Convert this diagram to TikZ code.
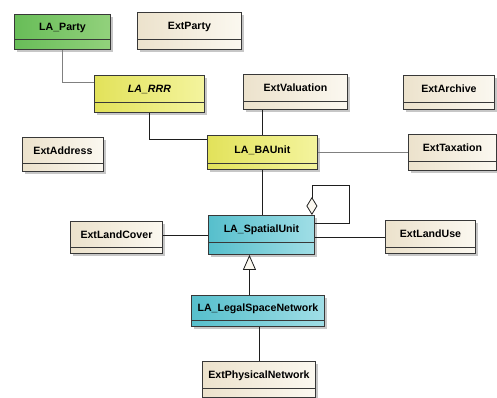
\documentclass[tikz,border=0pt]{standalone}
\usepackage{fontspec}
\setmainfont{Liberation Sans}
\usepackage{tikz}
\usetikzlibrary{arrows.meta,positioning,calc,shadows}
\definecolor{cLine}{HTML}{1E1E1E}
\definecolor{cGreyLine}{HTML}{808080}
\definecolor{cFrame}{HTML}{383838}
\definecolor{cPartyL}{HTML}{68BD58}
\definecolor{cPartyR}{HTML}{92D17C}
\definecolor{cAdmL}{HTML}{E2E25A}
\definecolor{cAdmR}{HTML}{F4F49E}
\definecolor{cSpL}{HTML}{56BFCC}
\definecolor{cSpR}{HTML}{A0DEE6}
\definecolor{cExtL}{HTML}{ECE2CC}
\definecolor{cExtR}{HTML}{FBF8F0}
\tikzset{
  cls/.style={draw=cFrame, line width=0.9pt, anchor=north west, inner sep=0pt,
              text height=7.6pt, text depth=#1pt, font=\bfseries\fontsize{10.6}{12}\selectfont,
              drop shadow={shadow xshift=3pt, shadow yshift=-3pt, fill=black, opacity=0.22},
              path picture={\draw[cFrame, line width=0.9pt]
                ([yshift=#1pt]path picture bounding box.south west) --
                ([yshift=#1pt]path picture bounding box.south east);}},
  cls/.default=8,
  partycls/.style={cls=#1, left color=cPartyL, right color=cPartyR},
  admcls/.style={cls=#1, left color=cAdmL, right color=cAdmR},
  spcls/.style={cls=#1, left color=cSpL, right color=cSpR},
  extcls/.style={cls=#1, left color=cExtL, right color=cExtR},
  sz/.style 2 args={minimum width=#1pt, minimum height=#2pt},
  assoc/.style={cLine, line width=0.8pt},
  assocg/.style={cGreyLine, line width=0.8pt},
  aggr/.style={assoc, {Diamond[fill=cExtR, length=18pt, width=11pt]}-},
  gener/.style={assoc, -{Triangle[fill=cExtR, length=15pt, width=13pt]}}
}

\begin{document}
\begin{tikzpicture}[x=1pt, y=-1pt]
\useasboundingbox (0,0) rectangle (497,398);
% Row 1: party
\node[partycls=10, sz={96}{35}] (party) at (14,14) {LA\_Party};
\node[extcls=10, sz={104}{37}] (extparty) at (137,12) {ExtParty};
% Row 2: rights and valuation
\node[admcls=10, sz={110}{37}, font=\bfseries\itshape\fontsize{10.6}{12}\selectfont] (rrr) at (94,75) {LA\_RRR};
\node[extcls=8, sz={104}{35}] (extval) at (243,74) {ExtValuation};
\node[extcls=7, sz={91}{34}] (extarch) at (403,75) {ExtArchive};
% Row 3: basic administrative unit
\node[extcls=8, sz={81}{34}] (extaddr) at (22,137) {ExtAddress};
\node[admcls=6, sz={110}{34}] (baunit) at (207,135) {LA\_BAUnit};
\node[extcls=9, sz={88}{36}] (exttax) at (408,134) {ExtTaxation};
% Row 4: spatial unit
\node[extcls=6, sz={92}{32}] (extlc) at (70,221) {ExtLandCover};
\node[spcls=12, sz={106}{39}] (su) at (208,215) {LA\_SpatialUnit};
\node[extcls=6, sz={90}{33}] (extlu) at (385,220) {ExtLandUse};
% Row 5-6: networks
\node[spcls=6, sz={133}{31}] (lsn) at (191,295) {LA\_LegalSpaceNetwork};
\node[extcls=9, sz={113}{36}] (extpn) at (202,361) {ExtPhysicalNetwork};
% Connectors
\draw[assocg] (party) |- ([yshift=11.5pt]rrr.west);
\draw[assoc] (rrr) |- ([yshift=13pt]baunit.west);
\draw[assoc] (baunit.north) -- (baunit.north |- extval.south);
\draw[assocg] (baunit) -- (exttax);
\draw[assoc] (baunit.south) -- (baunit.south |- su.north);
\draw[assoc] (su.west) -- (su.west -| extlc.east);
\draw[assoc] (extlu.west) -- (extlu.west -| su.east);
\draw[aggr] ([xshift=-3pt]su.north east) -- ++(0,-30) -| ([xshift=34pt, yshift=11.5pt]su.east) -- ([yshift=11.5pt]su.east);
\draw[gener] ([xshift=-8.5pt]lsn.north) -- ([xshift=-8.5pt]lsn.north |- su.south);
\draw[assoc] (extpn) -- (extpn.north |- lsn.south);
\end{tikzpicture}
\end{document}
